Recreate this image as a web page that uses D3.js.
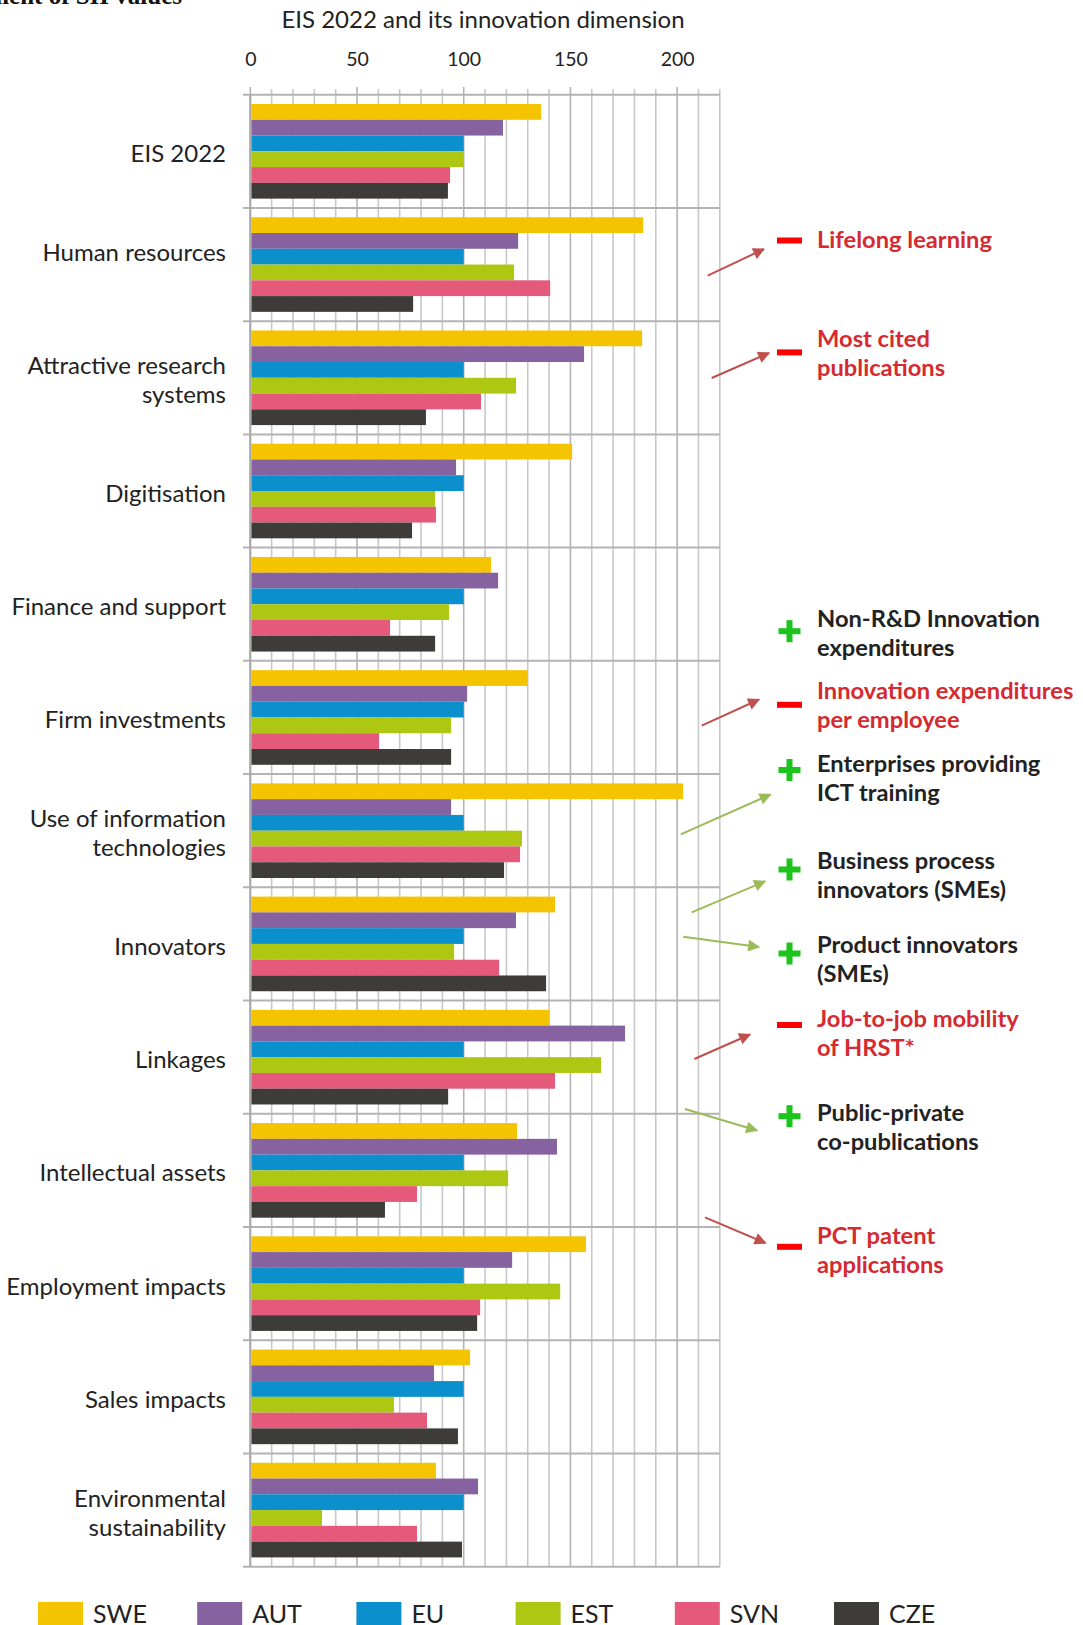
<!DOCTYPE html>
<html>
<head>
<meta charset="utf-8">
<script src="https://cdn.jsdelivr.net/npm/d3@7"></script>
<style>
  html, body { margin: 0; padding: 0; background: #fff; }
  svg { display: block; }
  text { font-family: Lato, "Open Sans", sans-serif; }
</style>
</head>
<body>
<svg id="chart" width="1083" height="1625"></svg>
<script>
// Innovation dimensions (EU = 100)
const categories = [
  "EIS 2022", "Human resources", "Attractive research systems", "Digitisation",
  "Finance and support", "Firm investments", "Use of information technologies",
  "Innovators", "Linkages", "Intellectual assets", "Employment impacts",
  "Sales impacts", "Environmental sustainability"
];
// wrapped label lines for the category axis
const categoryLines = [
  ["EIS 2022"], ["Human resources"], ["Attractive research", "systems"], ["Digitisation"],
  ["Finance and support"], ["Firm investments"], ["Use of information", "technologies"],
  ["Innovators"], ["Linkages"], ["Intellectual assets"], ["Employment impacts"],
  ["Sales impacts"], ["Environmental", "sustainability"]
];
const series = ["SWE", "AUT", "EU", "EST", "SVN", "CZE"];
const SWE = [136.3, 184.1, 183.6, 150.8, 112.8, 130.0, 202.8, 142.8, 140.2, 125.0, 157.3, 103.0, 87.0];
const AUT = [118.4, 125.5, 156.4, 96.4, 116.1, 101.6, 94.1, 124.5, 175.6, 143.7, 122.7, 86.1, 106.7];
const EU  = [100, 100, 100, 100, 100, 100, 100, 100, 100, 100, 100, 100, 100];
const EST = [99.9, 123.6, 124.5, 86.6, 93.1, 94.1, 127.3, 95.5, 164.4, 120.8, 145.2, 67.3, 33.6];
const SVN = [93.6, 140.5, 108.1, 87.0, 65.5, 60.3, 126.4, 116.6, 142.8, 78.1, 107.7, 82.8, 78.1];
const CZE = [92.6, 76.3, 82.3, 75.8, 86.6, 94.1, 118.9, 138.6, 92.7, 63.1, 106.3, 97.3, 99.2];
const xTicks = [0, 50, 100, 150, 200];

// indicator notes shown to the right of the bars
const notes = [
  { sign: "-", lines: ["Lifelong learning"] },
  { sign: "-", lines: ["Most cited", "publications"] },
  { sign: "+", lines: ["Non-R&D Innovation", "expenditures"] },
  { sign: "-", lines: ["Innovation expenditures", "per employee"] },
  { sign: "+", lines: ["Enterprises providing", "ICT training"] },
  { sign: "+", lines: ["Business process", "innovators (SMEs)"] },
  { sign: "+", lines: ["Product innovators", "(SMEs)"] },
  { sign: "-", lines: ["Job-to-job mobility", "of HRST*"] },
  { sign: "+", lines: ["Public-private", "co-publications"] },
  { sign: "-", lines: ["PCT patent", "applications"] }
];

const seriesValues = { SWE, AUT, EU, EST, SVN, CZE };
const colors = {
  SWE: "#f5c400", AUT: "#8762a0", EU: "#0b8fcd",
  EST: "#adc712", SVN: "#e55a7a", CZE: "#3d3c38"
};

const svg = d3.select("#chart");

const plotTop = 94.7, plotBottom = 1566.7;
const x = d3.scaleLinear().domain([0, 220]).range([250.3, 719.8]);
const y = d3.scaleBand().domain(categories).range([plotTop, plotBottom]).paddingInner(0);
const bandH = y.bandwidth();
const yInner = d3.scaleBand().domain(series).range([9.3, bandH - 9.3]).paddingInner(0);

// truncated heading from the page above the chart
svg.append("text")
  .attr("x", 182).attr("y", 4)
  .attr("text-anchor", "end")
  .style("font-family", "'Liberation Serif', 'DejaVu Serif', serif")
  .style("font-weight", "bold").style("font-size", "25px").attr("fill", "#111")
  .text("Development of SII values");

// chart title
svg.append("text")
  .attr("x", 483).attr("y", 28)
  .attr("text-anchor", "middle")
  .style("font-size", "24px").attr("fill", "#222")
  .text("EIS 2022 and its innovation dimension");

// vertical gridlines every 10 points (extend above the axis line as ticks)
const grid = svg.append("g");
grid.selectAll("line")
  .data(d3.range(0, 221, 10))
  .join("line")
  .attr("x1", d => x(d)).attr("x2", d => x(d))
  .attr("y1", d => d % 50 === 0 ? 87 : 89)
  .attr("y2", plotBottom)
  .attr("stroke", d => d % 50 === 0 ? "#b4b4b4" : "#c8c8c8")
  .attr("stroke-width", 1.6);

// category boundaries with small ticks left of the axis
const bounds = categories.map(c => y(c)).concat([plotBottom]);
svg.append("g").selectAll("line")
  .data(bounds)
  .join("line")
  .attr("x1", 243).attr("x2", x(220))
  .attr("y1", d => d).attr("y2", d => d)
  .attr("stroke", "#b3b3b3").attr("stroke-width", 2);

// top value axis labels
const xAxis = d3.axisTop(x).tickValues(xTicks).tickSize(0).tickPadding(0);
const axG = svg.append("g").attr("transform", "translate(0,66)").call(xAxis);
axG.select(".domain").remove();
axG.selectAll("text")
  .attr("dy", 0)
  .style("font-family", "Lato, sans-serif")
  .style("font-size", "19.5px").attr("fill", "#222");

// bars
const groups = svg.append("g").selectAll("g")
  .data(categories)
  .join("g")
  .attr("transform", c => `translate(0,${y(c)})`);

groups.selectAll("rect")
  .data((c, i) => series.map(s => ({ s, v: seriesValues[s][i] })))
  .join("rect")
  .attr("x", x(0) + 1)
  .attr("y", d => yInner(d.s))
  .attr("width", d => x(d.v) - x(0) - 1)
  .attr("height", yInner.bandwidth())
  .attr("fill", d => colors[d.s]);

// left axis line
svg.append("line")
  .attr("x1", x(0)).attr("x2", x(0))
  .attr("y1", plotTop).attr("y2", plotBottom)
  .attr("stroke", "#a8a8a8").attr("stroke-width", 2);

// category labels (the second label sits a little above its band centre)
const catLabels = svg.append("g");
categories.forEach((c, i) => {
  const lines = categoryLines[i];
  const cy = y(c) + bandH / 2 + (i === 1 ? -15 : 0);
  const t = catLabels.append("text")
    .attr("text-anchor", "end")
    .style("font-size", "24px").attr("fill", "#222");
  lines.forEach((ln, j) => {
    const base = lines.length === 1 ? cy + 11 : cy - 3.5 + j * 29;
    t.append("tspan").attr("x", 226).attr("y", base).text(ln);
  });
});

// notes with arrows
const defs = svg.append("defs");
[["red", "#c0504d"], ["green", "#9bbb59"]].forEach(([id, col]) => {
  defs.append("marker")
    .attr("id", "arrow-" + id)
    .attr("viewBox", "0 0 10 10")
    .attr("refX", 9).attr("refY", 5)
    .attr("markerUnits", "userSpaceOnUse")
    .attr("markerWidth", 15).attr("markerHeight", 12)
    .attr("orient", "auto")
    .append("path").attr("d", "M0,0 L10,5 L0,10 Z").attr("fill", col);
});

// first-line baseline, sign centre and arrow endpoints for each note
const noteLayout = [
  { base: 248,    sign: 240.5,  arrow: [707.7, 275.7, 764, 249] },
  { base: 346.5,  sign: 352.4,  arrow: [711.7, 378, 769, 353] },
  { base: 627,    sign: 631.2,  arrow: null },
  { base: 699,    sign: 704.8,  arrow: [701.7, 725.7, 759, 699.5] },
  { base: 771.5,  sign: 770,    arrow: [680.7, 834.3, 770.5, 794.5] },
  { base: 869,    sign: 869.5,  arrow: [691.7, 912.3, 765, 881.3] },
  { base: 953,    sign: 953.5,  arrow: [683.3, 936.7, 759, 947] },
  { base: 1026.5, sign: 1025,   arrow: [694.3, 1059, 750, 1034.5] },
  { base: 1121,   sign: 1116.2, arrow: [685, 1109, 757, 1130.5] },
  { base: 1244,   sign: 1246.8, arrow: [705, 1217.3, 765.5, 1243] }
];

const noteG = svg.append("g");
notes.forEach((n, i) => {
  const L = noteLayout[i];
  const neg = n.sign === "-";
  const textCol = neg ? "#d42a30" : "#222";
  const t = noteG.append("text")
    .style("font-weight", "bold").style("font-size", "23.7px")
    .attr("fill", textCol);
  n.lines.forEach((ln, j) => {
    t.append("tspan").attr("x", 817).attr("y", L.base + j * 29).text(ln);
  });
  if (neg) {
    noteG.append("rect")
      .attr("x", 777).attr("y", L.sign - 3)
      .attr("width", 25).attr("height", 6)
      .attr("fill", "#f00");
  } else {
    const cx = 789.5, cy = L.sign;
    noteG.append("rect").attr("x", cx - 11).attr("y", cy - 3).attr("width", 22).attr("height", 6).attr("fill", "#1cc41c");
    noteG.append("rect").attr("x", cx - 3).attr("y", cy - 11).attr("width", 6).attr("height", 22).attr("fill", "#1cc41c");
  }
  if (L.arrow) {
    const [x1, y1, x2, y2] = L.arrow;
    noteG.append("line")
      .attr("x1", x1).attr("y1", y1).attr("x2", x2).attr("y2", y2)
      .attr("stroke", neg ? "#c0504d" : "#9bbb59").attr("stroke-width", 2)
      .attr("marker-end", `url(#arrow-${neg ? "red" : "green"})`);
  }
});

// legend
const legendX = d3.scaleLinear().domain([0, series.length - 1]).range([38, 834]);
const leg = svg.append("g").selectAll("g")
  .data(series)
  .join("g")
  .attr("transform", (s, i) => `translate(${legendX(i)},1602)`);
leg.append("rect").attr("width", 45).attr("height", 30).attr("fill", s => colors[s]);
leg.append("text").attr("x", 55).attr("y", 21)
  .style("font-size", "25px").attr("fill", "#222")
  .text(s => s);
</script>
</body>
</html>
